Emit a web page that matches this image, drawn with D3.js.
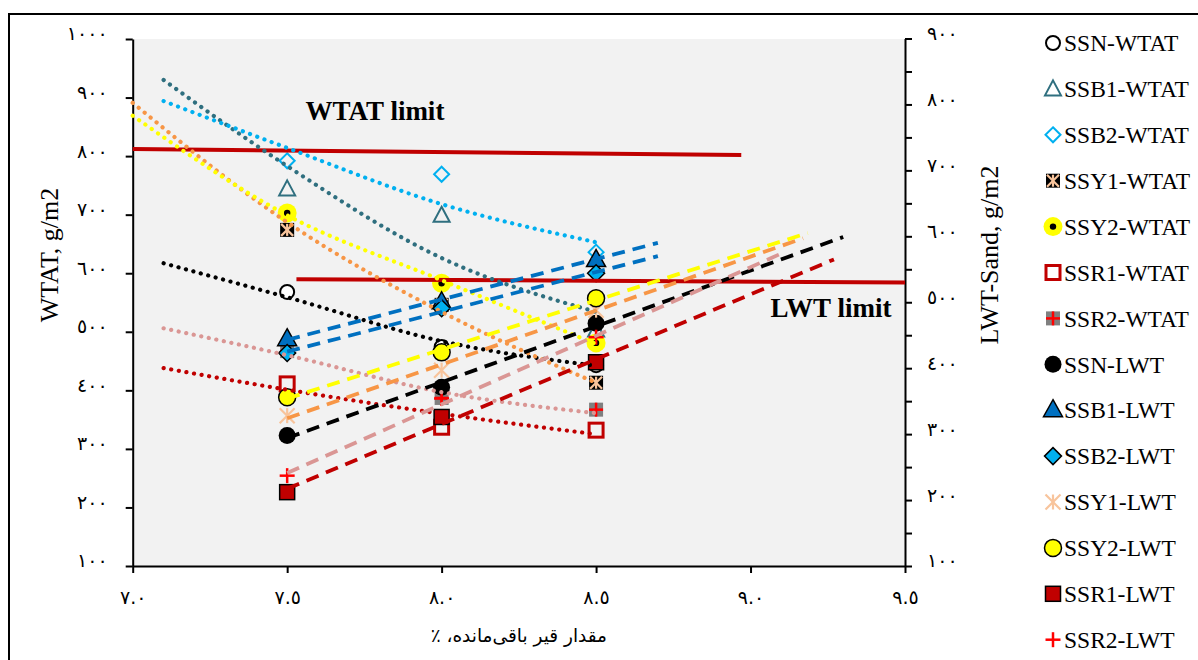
<!DOCTYPE html>
<html>
<head>
<meta charset="utf-8">
<script src="https://cdn.jsdelivr.net/npm/d3@7"></script>
<style>
  body { margin: 0; background: #fff; }
  text { fill: #000; }
</style>
</head>
<body>
<svg id="chart" width="1198" height="660"></svg>
<script>
'use strict';

// residual bitumen content (%) at which the mixes were tested
const xValues = [7.5, 8.0, 8.5];

// WTAT (left axis, g/m2)
const ssnWTAT = [568, 474, 443];
const ssb1WTAT = [744, 699, 503];
const ssb2WTAT = [792, 769, 636];
const ssy1WTAT = [674, 546, 413];
const ssy2WTAT = [703, 583, 481];
const ssr1WTAT = [411, 337, 332];
const ssr2WTAT = [467, 387, 367];

// LWT-Sand (right axis, g/m2)
const ssnLWT = [298, 371, 468];
const ssb1LWT = [444, 500, 564];
const ssb2LWT = [423, 491, 544];
const ssy1LWT = [328, 397, 488];
const ssy2LWT = [356, 424, 506];
const ssr1LWT = [212, 326, 409];
const ssr2LWT = [237, 354, 447];

// trendlines: [x, value]
const ssnWTATtrend = [[7.1, 617], [7.5, 559], [8.0, 484], [8.5, 442]];
const ssb1WTATtrend = [[7.1, 930], [7.5, 783], [8.0, 626], [8.5, 534]];
const ssb2WTATtrend = [[7.1, 894], [7.5, 814], [8.0, 718], [8.5, 653]];
const ssy1WTATtrend = [[7.0, 891], [7.5, 687], [8.0, 534], [8.5, 413]];
const ssy2WTATtrend = [[7.0, 869], [7.5, 699], [8.0, 588], [8.5, 479]];
const ssr1WTATtrend = [[7.1, 438], [7.5, 401], [8.0, 360], [8.5, 325]];
const ssr2WTATtrend = [[7.1, 506], [7.5, 460], [8.0, 397], [8.5, 361]];
const ssnLWTtrend = [[7.5, 294], [9.3, 599]];
const ssb1LWTtrend = [[7.5, 443], [8.7, 590]];
const ssb2LWTtrend = [[7.5, 425], [8.7, 570]];
const ssy1LWTtrend = [[7.5, 324], [9.17, 597]];
const ssy2LWTtrend = [[7.5, 354], [9.185, 605]];
const ssr1LWTtrend = [[7.5, 217], [9.27, 565]];
const ssr2LWTtrend = [[7.5, 241], [9.1, 574]];

// limit lines
const wtatLimit = [[7.0, 812], [8.97, 802]]; // left axis
const lwtLimit = [[7.53, 535], [9.5, 530]]; // right axis

const xTicks = [7.0, 7.5, 8.0, 8.5, 9.0, 9.5];
const leftTicks = d3.range(100, 1001, 100);
const rightTicks = d3.range(100, 901, 50);

const seriesNames = ['SSN-WTAT', 'SSB1-WTAT', 'SSB2-WTAT', 'SSY1-WTAT', 'SSY2-WTAT', 'SSR1-WTAT', 'SSR2-WTAT',
  'SSN-LWT', 'SSB1-LWT', 'SSB2-LWT', 'SSY1-LWT', 'SSY2-LWT', 'SSR1-LWT', 'SSR2-LWT'];
const seriesValues = [ssnWTAT, ssb1WTAT, ssb2WTAT, ssy1WTAT, ssy2WTAT, ssr1WTAT, ssr2WTAT,
  ssnLWT, ssb1LWT, ssb2LWT, ssy1LWT, ssy2LWT, ssr1LWT, ssr2LWT];
const seriesTrends = [ssnWTATtrend, ssb1WTATtrend, ssb2WTATtrend, ssy1WTATtrend, ssy2WTATtrend, ssr1WTATtrend, ssr2WTATtrend,
  ssnLWTtrend, ssb1LWTtrend, ssb2LWTtrend, ssy1LWTtrend, ssy2LWTtrend, ssr1LWTtrend, ssr2LWTtrend];

// styling
const markerTypes = ['circleOpen', 'triOpen', 'diaOpen', 'starSq', 'dotYellow', 'sqOpen', 'plusSq',
  'circleFill', 'triFill', 'diaFill', 'star', 'circleYellow', 'sqFill', 'plus'];
const trendColors = ['#000', '#2f6f7f', '#00b0f0', '#f79646', '#ffff00', '#c00000', '#da9694',
  '#000', '#0070c0', '#0070c0', '#f79646', '#ffff00', '#c00000', '#da9694'];

const svg = d3.select('#chart');
const serif = '"Liberation Serif", "Times New Roman", serif';
const arabicFont = '"DejaVu Sans", sans-serif';

const x = d3.scaleLinear().domain([7, 9.5]).range([132.7, 905]);
const yL = d3.scaleLinear().domain([100, 1000]).range([566, 39]);
const yR = d3.scaleLinear().domain([100, 900]).range([566, 38.5]);

const toArabic = (s) => String(s).replace(/[0-9]/g, (d) => '٠١٢٣٤٥٦٧٨٩'[d]);

// outer chart border
svg.append('path')
  .attr('d', 'M9,700V14H1210')
  .attr('fill', 'none')
  .attr('stroke', '#000')
  .attr('stroke-width', 2);

// plot area
svg.append('rect')
  .attr('x', x(7)).attr('y', yL(1000))
  .attr('width', x(9.5) - x(7)).attr('height', yL(100) - yL(1000))
  .attr('fill', '#f2f2f2');

function styleAxis(g) {
  g.attr('font-family', arabicFont).attr('font-size', 19);
  g.selectAll('path, line').attr('stroke', '#000').attr('stroke-width', 2);
}

svg.append('g')
  .attr('transform', `translate(${x(7)},0)`)
  .call(d3.axisLeft(yL).tickValues(leftTicks).tickSize(7).tickSizeOuter(0).tickPadding(18)
    .tickFormat((d) => toArabic(d)))
  .call(styleAxis)
  .selectAll('text').attr('dy', '0.05em');

svg.append('g')
  .attr('transform', `translate(${x(9.5)},0)`)
  .call(d3.axisRight(yR).tickValues(rightTicks).tickSize(7).tickSizeOuter(0).tickPadding(15)
    .tickFormat((d) => (d % 100 === 0 ? toArabic(d) : '')))
  .call(styleAxis)
  .selectAll('text').attr('dy', '0.05em');

svg.append('g')
  .attr('transform', `translate(0,${yL(100)})`)
  .call(d3.axisBottom(x).tickValues(xTicks).tickSize(7).tickSizeOuter(0).tickPadding(18)
    .tickFormat((d) => toArabic(d3.format('.1f')(d))))
  .call(styleAxis);

// axis titles
svg.append('text')
  .attr('transform', 'translate(58,255) rotate(-90)')
  .attr('text-anchor', 'middle')
  .attr('font-family', serif).attr('font-size', 26)
  .text('WTAT, g/m2');

svg.append('text')
  .attr('transform', 'translate(998,255) rotate(-90)')
  .attr('text-anchor', 'middle')
  .attr('font-family', serif).attr('font-size', 26)
  .text('LWT-Sand, g/m2');

svg.append('text')
  .attr('x', (x(7) + x(9.5)) / 2).attr('y', 642)
  .attr('text-anchor', 'middle')
  .attr('direction', 'rtl')
  .attr('font-family', arabicFont).attr('font-size', 18.5)
  .text('مقدار قیر باقی‌مانده، ٪');

// marker shapes
function marker(g, type, cx, cy) {
  const m = g.append('g').attr('transform', `translate(${cx},${cy})`);
  const cross = (col, w, r, withX, withPlus) => {
    if (withPlus) {
      m.append('line').attr('x1', 0).attr('y1', -r).attr('x2', 0).attr('y2', r).attr('stroke', col).attr('stroke-width', w);
    }
    if (withPlus === 'full') {
      m.append('line').attr('x1', -r).attr('y1', 0).attr('x2', r).attr('y2', 0).attr('stroke', col).attr('stroke-width', w);
    }
    if (withX) {
      m.append('line').attr('x1', -r).attr('y1', -r).attr('x2', r).attr('y2', r).attr('stroke', col).attr('stroke-width', w);
      m.append('line').attr('x1', -r).attr('y1', r).attr('x2', r).attr('y2', -r).attr('stroke', col).attr('stroke-width', w);
    }
  };
  switch (type) {
    case 'circleOpen':
      m.append('circle').attr('r', 7).attr('fill', '#fff').attr('stroke', '#000').attr('stroke-width', 2);
      break;
    case 'triOpen':
      m.append('path').attr('d', 'M0,-8.5L8,6.5L-8,6.5Z').attr('fill', 'none').attr('stroke', '#2f6f7f').attr('stroke-width', 2);
      break;
    case 'diaOpen':
      m.append('path').attr('d', 'M0,-7.5L7.5,0L0,7.5L-7.5,0Z').attr('fill', 'none').attr('stroke', '#00b0f0').attr('stroke-width', 2);
      break;
    case 'starSq':
      m.append('rect').attr('x', -7).attr('y', -7).attr('width', 14).attr('height', 14).attr('fill', '#000');
      cross('#f8c49c', 2.2, 6, true, true);
      break;
    case 'dotYellow':
      m.append('circle').attr('r', 9.5).attr('fill', '#ffff00');
      m.append('circle').attr('r', 3.2).attr('fill', '#000');
      break;
    case 'sqOpen':
      m.append('rect').attr('x', -7).attr('y', -7).attr('width', 14).attr('height', 14)
        .attr('fill', 'none').attr('stroke', '#c00000').attr('stroke-width', 3);
      break;
    case 'plusSq':
      m.append('rect').attr('x', -7).attr('y', -7).attr('width', 14).attr('height', 14).attr('fill', '#808080');
      cross('#ff0000', 2.5, 7, false, 'full');
      break;
    case 'circleFill':
      m.append('circle').attr('r', 8.5).attr('fill', '#000');
      break;
    case 'triFill':
      m.append('path').attr('d', 'M0,-10.5L9.5,6.5L-9.5,6.5Z').attr('fill', '#0070c0').attr('stroke', '#000').attr('stroke-width', 1.5);
      break;
    case 'diaFill':
      m.append('path').attr('d', 'M0,-8.5L8.5,0L0,8.5L-8.5,0Z').attr('fill', '#00b0f0').attr('stroke', '#000').attr('stroke-width', 1.5);
      break;
    case 'star':
      cross('#f8c49c', 2.2, 7.5, true, true);
      break;
    case 'circleYellow':
      m.append('circle').attr('r', 8.5).attr('fill', '#ffff00').attr('stroke', '#000').attr('stroke-width', 1.5);
      break;
    case 'sqFill':
      m.append('rect').attr('x', -7.5).attr('y', -7.5).attr('width', 15).attr('height', 15)
        .attr('fill', '#c00000').attr('stroke', '#000').attr('stroke-width', 1.5);
      break;
    case 'plus':
      cross('#ff0000', 2.5, 7.5, false, 'full');
      break;
  }
}

const yFor = (i) => (seriesNames[i].endsWith('WTAT') ? yL : yR);

// markers
const markersG = svg.append('g');
seriesValues.forEach((vals, i) => {
  const y = yFor(i);
  vals.forEach((v, j) => marker(markersG, markerTypes[i], x(xValues[j]), y(v)));
});

// limit lines
const limitLine = (y) => d3.line().x((d) => x(d[0])).y((d) => y(d[1]));
svg.append('path').attr('d', limitLine(yL)(wtatLimit))
  .attr('fill', 'none').attr('stroke', '#c00000').attr('stroke-width', 4);
svg.append('path').attr('d', limitLine(yR)(lwtLimit))
  .attr('fill', 'none').attr('stroke', '#c00000').attr('stroke-width', 4);

// trendlines
const trendG = svg.append('g');
seriesTrends.forEach((pts, i) => {
  const y = yFor(i);
  const isW = seriesNames[i].endsWith('WTAT');
  const line = d3.line().x((d) => x(d[0])).y((d) => y(d[1])).curve(d3.curveMonotoneX);
  trendG.append('path')
    .attr('d', line(pts))
    .attr('fill', 'none')
    .attr('stroke', trendColors[i])
    .attr('stroke-width', isW ? 4.2 : 3.8)
    .attr('stroke-linecap', isW ? 'round' : 'butt')
    .attr('stroke-dasharray', isW ? '0.1 7.6' : '13 8');
});

// limit labels
svg.append('text')
  .attr('x', 375).attr('y', 120)
  .attr('text-anchor', 'middle')
  .attr('font-family', serif).attr('font-size', 27).attr('font-weight', 'bold')
  .text('WTAT limit');
svg.append('text')
  .attr('x', 831).attr('y', 317)
  .attr('text-anchor', 'middle')
  .attr('font-family', serif).attr('font-size', 27).attr('font-weight', 'bold')
  .text('LWT limit');

// legend
const legend = svg.append('g');
seriesNames.forEach((name, i) => {
  const ly = 43 + i * 45.9;
  marker(legend, markerTypes[i], 1053, ly);
  legend.append('text')
    .attr('x', 1064).attr('y', ly)
    .attr('dy', '0.35em')
    .attr('font-family', serif).attr('font-size', 23.5)
    .text(name);
});
</script>
</body>
</html>
